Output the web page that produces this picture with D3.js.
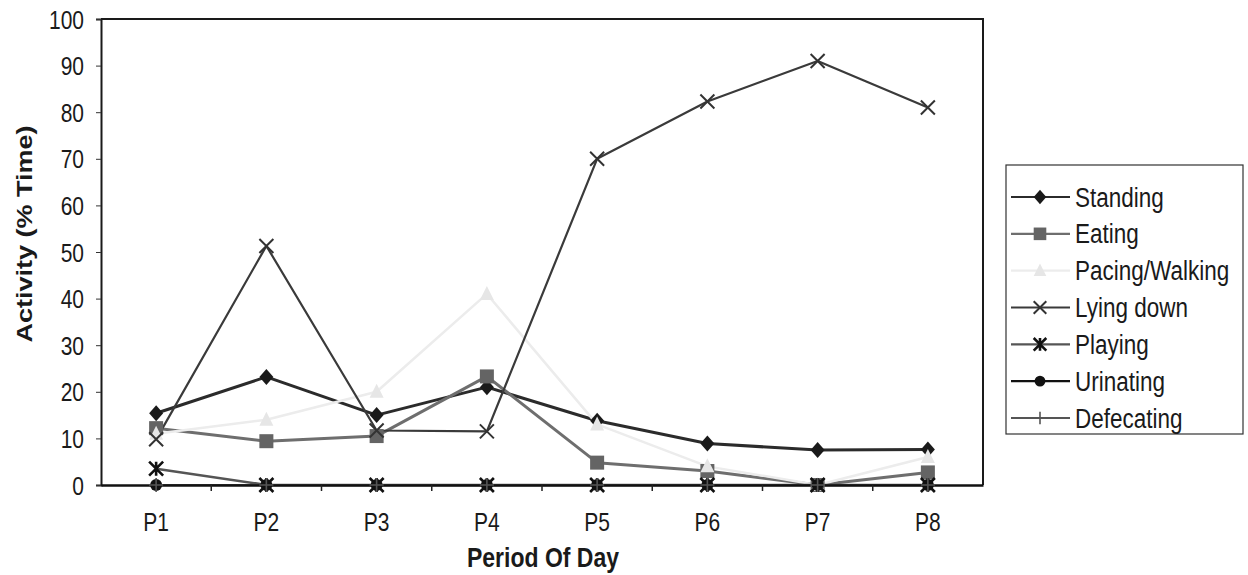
<!DOCTYPE html>
<html><head><meta charset="utf-8">
<script src="https://cdn.jsdelivr.net/npm/d3@7"></script>
<style>
body{margin:0;background:#fff;}
text{font-family:"Liberation Sans",Arial,sans-serif;fill:#1a1a1a;}
</style></head>
<body><svg id="c" width="1248" height="575"></svg>
<script>
const categories = ["P1","P2","P3","P4","P5","P6","P7","P8"];
const yTicks = [0,10,20,30,40,50,60,70,80,90,100];
const seriesNames = ["Standing","Eating","Pacing/Walking","Lying down","Playing","Urinating","Defecating"];
const standing   = [15.4, 23.2, 15.0, 21.0, 13.8, 8.9, 7.5, 7.6];
const eating     = [12.2, 9.4, 10.5, 23.3, 4.8, 3.0, 0, 2.7];
const pacing     = [11, 14, 20, 41, 13, 4, 0, 6];
const lyingDown  = [9.8, 51.3, 11.7, 11.5, 70, 82.3, 91, 81];
const playing    = [3.5, 0, 0, 0, 0, 0, 0, 0];
const urinating  = [0, 0, 0, 0, 0, 0, 0, 0];
const defecating = [0, 0, 0, 0, 0, 0, 0, 0];

const SY = 1.2; // vertical stretch of lettering
const svg = d3.select("#c");
const L=101, R=983, T=19, B=485;
const x = d3.scaleBand().domain(categories).range([L,R]).padding(0);
const y = d3.scaleLinear().domain([0,100]).range([B,T]);
const cx = c => x(c)+x.bandwidth()/2;

const styles = [
  {name:seriesNames[0], data:standing, line:"#2b2b2b", w:3, marker:"diamond", mc:"#1a1a1a"},
  {name:seriesNames[1], data:eating, line:"#6e6e6e", w:3, marker:"square", mc:"#646464"},
  {name:seriesNames[2], data:pacing, line:"#ececec", w:2.5, marker:"triangle", mc:"#e6e6e6"},
  {name:seriesNames[3], data:lyingDown, line:"#3a3a3a", w:2.2, marker:"x", mc:"#333"},
  {name:seriesNames[4], data:playing, line:"#555", w:2.6, marker:"star", mc:"#111"},
  {name:seriesNames[5], data:urinating, line:"#111", w:2, marker:"circle", mc:"#111"},
  {name:seriesNames[6], data:defecating, line:"#555", w:2, marker:"plus", mc:"#555"}
];

function drawMarker(g, type, px, py, col, s){
  s = s||1;
  if(type==="diamond"){
    g.append("path").attr("d",`M${px},${py-8*s}L${px+7*s},${py}L${px},${py+8*s}L${px-7*s},${py}Z`).attr("fill",col);
  } else if(type==="square"){
    g.append("rect").attr("x",px-7*s).attr("y",py-7*s).attr("width",14*s).attr("height",14*s).attr("fill",col);
  } else if(type==="triangle"){
    g.append("path").attr("d",`M${px},${py-8*s}L${px+7*s},${py+6*s}L${px-7*s},${py+6*s}Z`).attr("fill",col);
  } else if(type==="x"){
    const r=7*s;
    g.append("path").attr("d",`M${px-r},${py-r}L${px+r},${py+r}M${px-r},${py+r}L${px+r},${py-r}`).attr("stroke",col).attr("stroke-width",2);
  } else if(type==="star"){
    const r=7*s;
    g.append("path").attr("d",`M${px-r},${py-r}L${px+r},${py+r}M${px-r},${py+r}L${px+r},${py-r}M${px},${py-r}L${px},${py+r}`).attr("stroke",col).attr("stroke-width",2.6);
  } else if(type==="circle"){
    g.append("circle").attr("cx",px).attr("cy",py).attr("r",6*s).attr("fill",col);
  } else if(type==="plus"){
    const r=7*s;
    g.append("path").attr("d",`M${px-r},${py}L${px+r},${py}M${px},${py-r}L${px},${py+r}`).attr("stroke",col).attr("stroke-width",1.6);
  }
}

// frame: top and right
svg.append("path").attr("d",`M${L},${T}L${R},${T}L${R},${B}`).attr("fill","none").attr("stroke","#1a1a1a").attr("stroke-width",2);

// y axis
const yAxis = svg.append("g").attr("transform",`translate(${L},0)`)
  .call(d3.axisLeft(y).tickValues(yTicks).tickSize(5).tickPadding(12));
yAxis.select(".domain").attr("stroke","#1a1a1a").attr("stroke-width",2);
yAxis.selectAll(".tick line").attr("stroke","#333");
yAxis.selectAll(".tick text")
  .attr("x",0).attr("dy","0.36em")
  .attr("transform",`translate(-17,0) scale(1,${SY})`)
  .style("font-size","21px").style("font-family","Liberation Sans, Arial, sans-serif").attr("fill","#1a1a1a");

// series lines
const lineGen = d3.line().x((d,i)=>cx(categories[i])).y(d=>y(d));
styles.forEach(s=>{
  svg.append("path").datum(s.data).attr("d",lineGen).attr("fill","none")
    .attr("stroke",s.line).attr("stroke-width",s.w).attr("stroke-linejoin","round");
});

// x axis
const xAxis = svg.append("g").attr("transform",`translate(0,${B})`)
  .call(d3.axisBottom(x).tickSize(0).tickPadding(0));
xAxis.select(".domain").attr("stroke","#111").attr("stroke-width",2.4);
xAxis.selectAll(".tick text")
  .attr("y",0).attr("dy",0)
  .attr("transform",`translate(0,46) scale(1,${SY})`)
  .style("font-size","21px").style("font-family","Liberation Sans, Arial, sans-serif").attr("fill","#1a1a1a");
svg.append("g").selectAll("line").data(categories.slice(1)).join("line")
  .attr("x1",d=>x(d)).attr("x2",d=>x(d)).attr("y1",B).attr("y2",B+6).attr("stroke","#222").attr("stroke-width",1.5);

// markers
styles.forEach(s=>{
  const g = svg.append("g");
  s.data.forEach((v,i)=>drawMarker(g, s.marker, cx(categories[i]), y(v), s.mc));
});

// axis titles
svg.append("text").attr("transform",`translate(543,567) scale(1,${SY})`).attr("text-anchor","middle")
  .style("font-size","23px").style("font-weight","bold").text("Period Of Day");
svg.append("text").attr("transform",`translate(32,234) rotate(-90) scale(${SY},1)`).attr("text-anchor","middle")
  .style("font-size","22.5px").style("font-weight","bold").text("Activity (% Time)");

// legend
const lg = svg.append("g");
lg.append("rect").attr("x",1006).attr("y",165).attr("width",237).attr("height",269).attr("fill","#fff").attr("stroke","#333").attr("stroke-width",1.2);
const ly = d3.scalePoint().domain(seriesNames).range([197,418]);
styles.forEach(s=>{
  const yy = ly(s.name);
  lg.append("line").attr("x1",1011).attr("x2",1070).attr("y1",yy).attr("y2",yy).attr("stroke",s.line).attr("stroke-width",2.2);
  drawMarker(lg, s.marker, 1040, yy, s.mc, 0.9);
  lg.append("text").attr("transform",`translate(1075,${yy+9.5}) scale(1,${SY})`).style("font-size","22.5px").text(s.name);
});
</script>
</body></html>
